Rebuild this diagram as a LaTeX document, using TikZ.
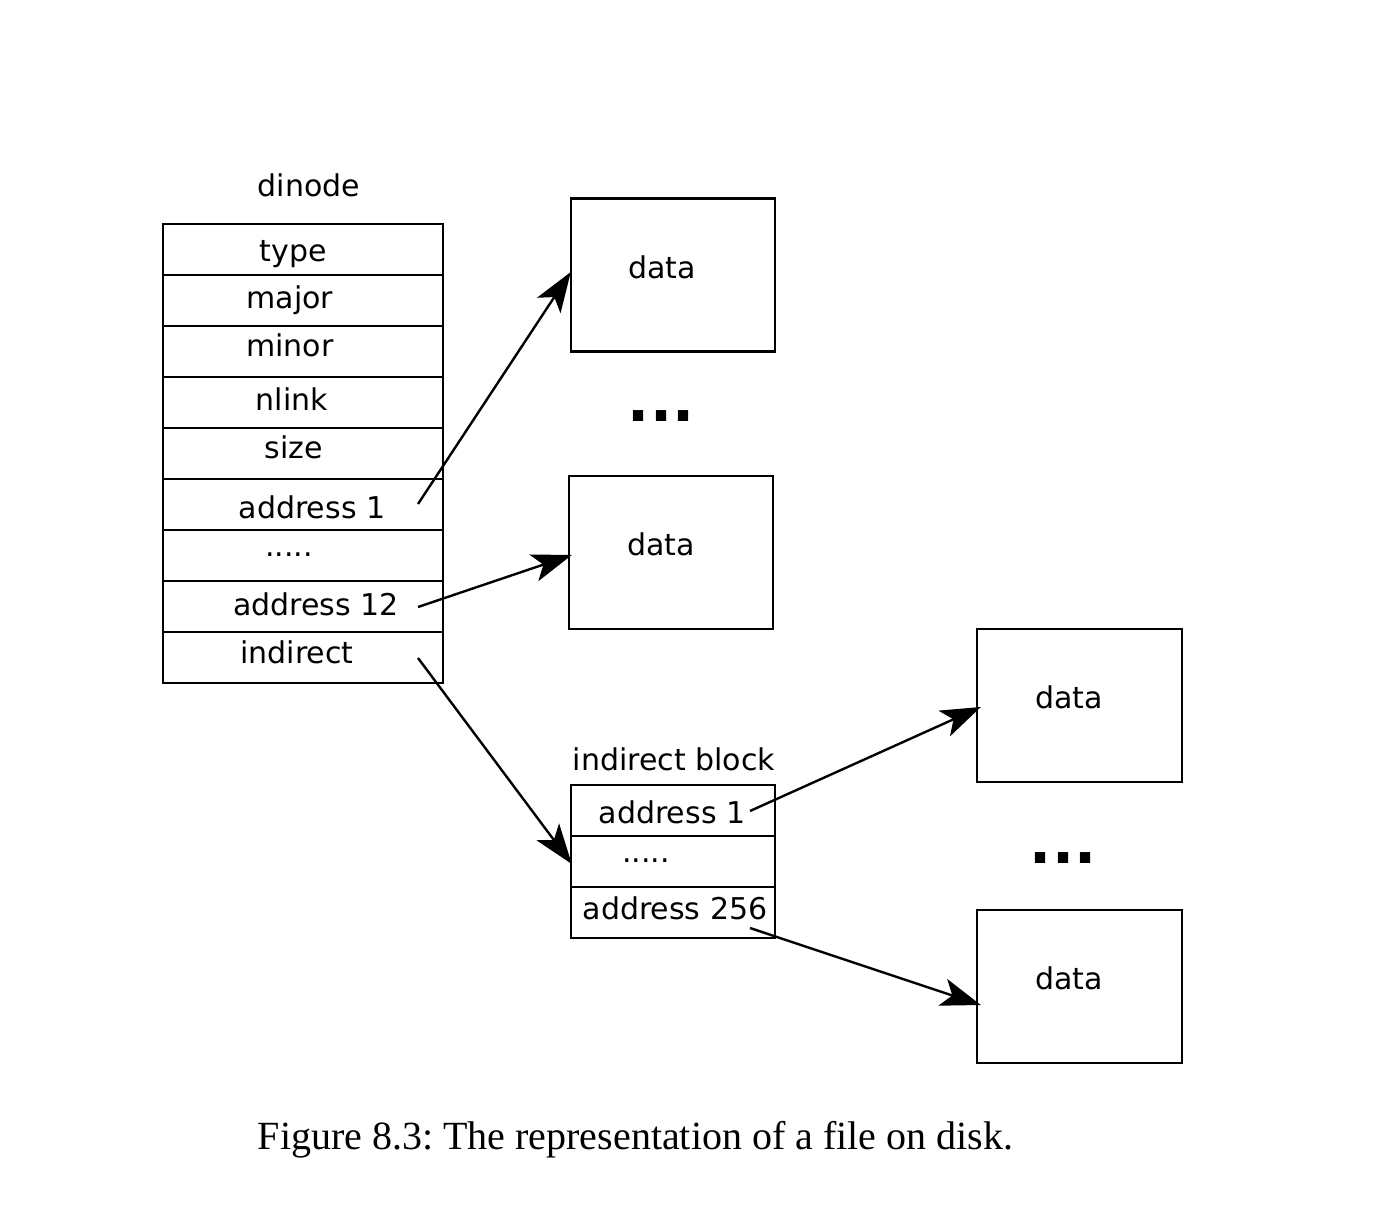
\documentclass[tikz,border=0pt]{standalone}
\usepackage{fontspec}
\setmainfont{DejaVu Sans}
\newfontfamily\capfont{Liberation Serif}
\usetikzlibrary{arrows.meta,calc}
\frenchspacing
\begin{document}
\begin{tikzpicture}[x=0.5pt,y=-0.5pt,
  lbl/.style={anchor=base,inner sep=0pt,font=\fontsize{15}{18}\selectfont},
  blk/.style={draw,line width=1.2pt,inner sep=0pt,minimum width=102pt,minimum height=76.5pt},
  rowline/.style={line width=0.6pt},
  ptr/.style={line width=1.2pt,-{Stealth[length=20pt,width=14pt,inset=5pt]}},
  more/.style={anchor=base,inner sep=0pt,font=\fontsize{29}{30}\bfseries\selectfont}]
\useasboundingbox (0,0) rectangle (1396,1204);

% dinode table
\node[lbl] (dntitle) at (309,196) {dinode};
\node[blk,minimum width=140pt,minimum height=229.5pt] (dn) at (303,453.5) {};
\foreach \y in {275,326,...,632}
  \draw[rowline] (163,\y) -- (443,\y);
\node[lbl] (ftype)  at (293,261) {type};
\node[lbl] (fmajor) at (290,308) {major};
\node[lbl] (fminor) at (290,356) {minor};
\node[lbl] (fnlink) at (292,410) {nlink};
\node[lbl] (fsize)  at (294,458) {size};
\node[lbl] (fa1)    at (312,518) {address 1};
\node[lbl] (fdots)  at (289,556) {.....};
\node[lbl] (fa12)   at (316,615) {address 12};
\node[lbl] (find)   at (297,663) {indirect};

% direct data blocks
\node[blk] (d1) at (673,275) {};
\node[lbl] (d1t) at (662,278) {data};
\node[more] (dots1) at (661,421) {...};
\node[blk] (d2) at (671,552.5) {};
\node[lbl] (d2t) at (661,555) {data};

% indirect block
\node[lbl] (ibtitle) at (674,770) {indirect block};
\node[blk] (ib) at (673,861.5) {};
\draw[rowline] (571,836) -- (775,836);
\draw[rowline] (571,887) -- (775,887);
\node[lbl] (iba1)   at (672,823) {address 1};
\node[lbl] (ibdots) at (646,862) {.....};
\node[lbl] (iba256) at (675,919) {address 256};

% data blocks reached through the indirect block
\node[blk,minimum width=102.5pt] (d3) at (1079.5,705.5) {};
\node[lbl] (d3t) at (1069,708) {data};
\node[more] (dots2) at (1063,863) {...};
\node[blk,minimum width=102.5pt] (d4) at (1079.5,986.5) {};
\node[lbl] (d4t) at (1069,989) {data};

% pointers
\coordinate (s1) at (418,504);
\coordinate (s2) at (418,607);
\coordinate (s3) at (418,658);
\coordinate (s4) at (750,811);
\coordinate (s5) at (750,928);
\draw[ptr] (s1) -- ($(d1.west)+(1,-3)$);
\draw[ptr] (s2) -- ($(d2.west)+(4,2.5)$);
\draw[ptr] (s3) -- ($(ib.west)+(2,2.5)$);
\draw[ptr] (s4) -- ($(d3.west)+(5,1.5)$);
\draw[ptr] (s5) -- ($(d4.west)+(5,18.5)$);

% caption
\node[anchor=base,inner sep=0pt,font=\capfont\fontsize{20}{24}\selectfont] (cap)
  at (635.5,1149) {Figure 8.3: The representation of a file on disk.};
\end{tikzpicture}
\end{document}
